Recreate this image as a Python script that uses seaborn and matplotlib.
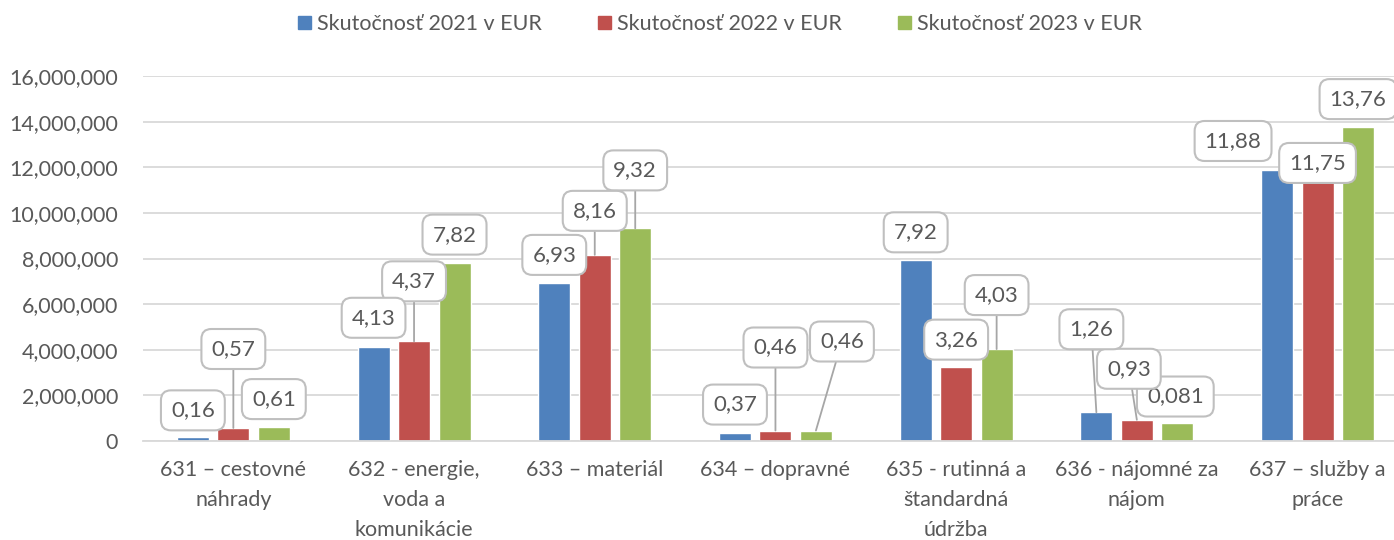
import pandas as pd
import matplotlib
matplotlib.use("Agg")
import matplotlib.pyplot as plt
import matplotlib.ticker as mticker
import seaborn as sns

# ---- data (EUR) ----
categories = [
    "631 – cestovné\nnáhrady",
    "632 - energie,\nvoda a\nkomunikácie",
    "633 – materiál",
    "634 – dopravné",
    "635 - rutinná a\nštandardná\núdržba",
    "636 - nájomné za\nnájom",
    "637 – služby a\npráce",
]
series = ["Skutočnosť 2021 v EUR", "Skutočnosť 2022 v EUR", "Skutočnosť 2023 v EUR"]
values_2021 = [160000, 4130000, 6930000, 370000, 7920000, 1260000, 11880000]
values_2022 = [570000, 4370000, 8160000, 460000, 3260000, 930000, 11750000]
values_2023 = [610000, 7820000, 9320000, 460000, 4030000, 810000, 13760000]

# data labels as written in the chart (millions)
labels_2021 = ["0,16", "4,13", "6,93", "0,37", "7,92", "1,26", "11,88"]
labels_2022 = ["0,57", "4,37", "8,16", "0,46", "3,26", "0,93", "11,75"]
labels_2023 = ["0,61", "7,82", "9,32", "0,46", "4,03", "0,081", "13,76"]

# callout offsets from bar top (pixels)
offsets_2021 = [(0, 27), (0, 29), (0, 28), (0, 28), (0, 28), (-5, 83), (-44, 29)]
offsets_2022 = [(0, 79), (0, 60), (0, 44), (0, 83), (0, 27), (-8, 51), (0, 10)]
offsets_2023 = [(0, 28), (0, 28), (0, 58), (26, 89), (0, 54), (-2, 26), (0, 28)]

colors = ["#4F81BD", "#C0504D", "#9BBB59"]
text_color = "#595959"

df = pd.DataFrame({
    "category": categories * 3,
    "series": [s for s in series for _ in categories],
    "value": values_2021 + values_2022 + values_2023,
})

sns.set_theme(style="white")
plt.rcParams["font.family"] = ["Lato", "DejaVu Sans"]

fig = plt.figure(figsize=(13.94, 5.4), dpi=100)
ax = fig.add_axes([143 / 1394, 99 / 540, (1394 - 143) / 1394, 365 / 540])

sns.barplot(data=df, x="category", y="value", hue="series", order=categories,
            hue_order=series, palette=colors, width=0.672, gap=0.21,
            saturation=1, ax=ax, legend=True)

ax.set_xlim(-0.5, -0.5 + (1394 - 143) / 180.7)
ax.set_ylim(0, 16000000)
ax.yaxis.set_major_locator(mticker.MultipleLocator(2000000))
ax.yaxis.set_major_formatter(mticker.FuncFormatter(lambda v, p: f"{int(v):,}"))
ax.grid(axis="y", color="#D9D9D9", lw=1.3)
ax.set_axisbelow(True)
for s in ["left", "right", "top"]:
    ax.spines[s].set_visible(False)
ax.spines["bottom"].set_color("#D9D9D9")
ax.spines["bottom"].set_linewidth(1.3)
ax.set_xlabel("")
ax.set_ylabel("")
ax.tick_params(axis="y", length=0, pad=18, labelsize=15.5, labelcolor=text_color)
ax.tick_params(axis="x", length=0, pad=14, labelsize=15.5, labelcolor=text_color)
for t in ax.get_xticklabels():
    t.set_linespacing(1.6)

# callouts, green first so red boxes sit on top
all_labels = [labels_2021, labels_2022, labels_2023]
all_offsets = [offsets_2021, offsets_2022, offsets_2023]
for i in [2, 1, 0]:
    cont = ax.containers[i]
    for j, bar in enumerate(cont):
        dx, dy = all_offsets[i][j]
        x = bar.get_x() + bar.get_width() / 2
        y = bar.get_height()
        arrow = None
        if dy > 40:
            arrow = dict(arrowstyle="-", color="#A6A6A6", lw=1.3, shrinkA=0, shrinkB=0)
        ax.annotate(all_labels[i][j], xy=(x, y), xytext=(dx, dy),
                    textcoords="offset pixels", ha="center", va="center",
                    fontsize=16, color=text_color, zorder=5 + (2 - i),
                    bbox=dict(boxstyle="round,pad=0.45,rounding_size=0.45",
                              fc="white", ec="#BFBFBF", lw=1.5),
                    arrowprops=arrow, annotation_clip=False)

ax.get_legend().remove()
handles = [plt.Rectangle((0, 0), 1, 1, color=c) for c in colors]
fig.legend(handles, series, loc="center", bbox_to_anchor=(720 / 1394, 1 - 24 / 540),
           ncol=3, frameon=False, fontsize=15.5, labelcolor=text_color,
           handlelength=0.6, handleheight=0.6, handletextpad=0.3, columnspacing=2.6)

fig.savefig("out.png", dpi=100)
